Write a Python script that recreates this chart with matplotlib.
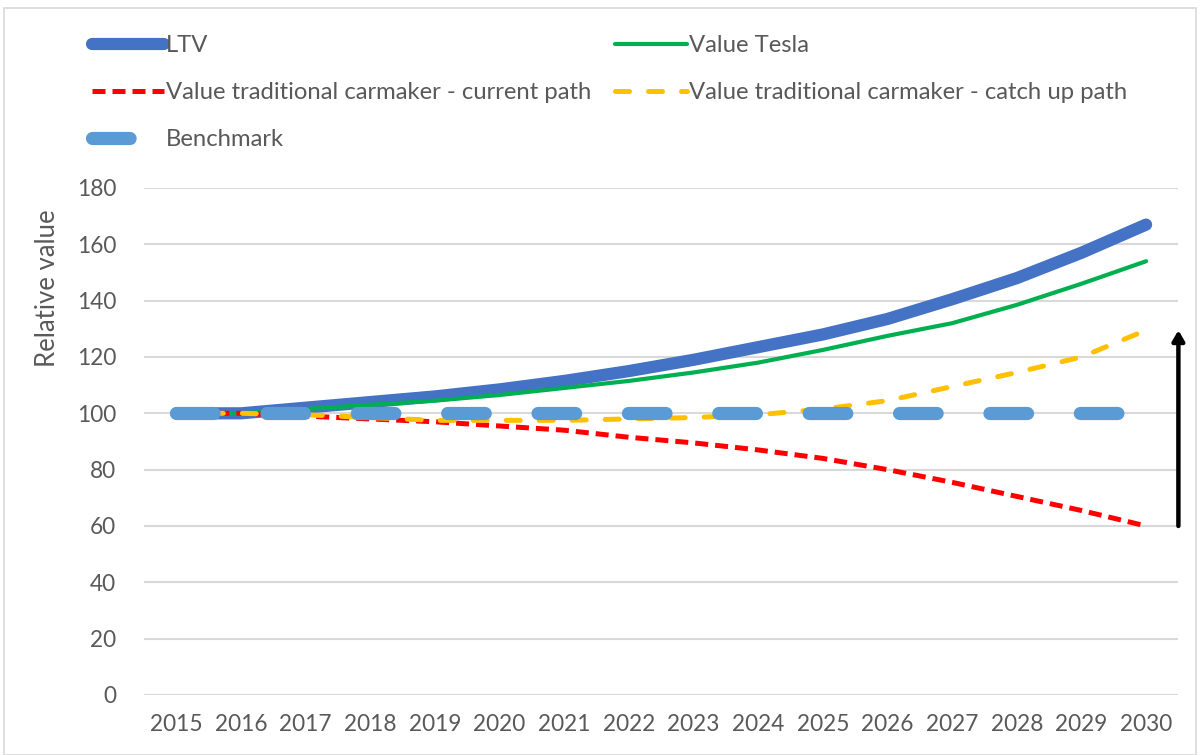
import matplotlib
matplotlib.use('Agg')
import matplotlib.pyplot as plt
from matplotlib.patches import Rectangle

plt.rcParams['font.family'] = ['Lato', 'DejaVu Sans']

# Data
years = [str(y) for y in range(2015, 2031)]
ltv = [100, 100, 102, 104, 106, 108.5, 111.5, 115, 119, 123.5, 128, 133.5, 140.5, 148, 157, 167]
tesla = [100, 100, 101.5, 103, 104.5, 106.5, 109, 111.5, 114.5, 118, 122.5, 127.5, 132, 138.5, 146, 154]
current_path = [100, 100, 99, 98, 97, 95.5, 94, 91.5, 89.5, 87, 84, 80, 75.5, 70.5, 65.5, 60]
catch_up_path = [100, 100, 99.5, 98.5, 97.5, 97.5, 97.5, 98, 98.5, 99.5, 101.5, 104.5, 109.5, 114.5, 120, 129.5]
benchmark = [100] * 16
y_ticks = list(range(0, 181, 20))

text_col = '#595959'
x = list(range(len(years)))

fig = plt.figure(figsize=(12, 7.55), dpi=100)
ax = fig.add_axes([0.12, 0.0795, 0.862, 0.6715])

# chart border
fig.patches.append(Rectangle((0.003, 0.0), 0.994, 0.989, transform=fig.transFigure,
                             fill=False, edgecolor='#d9d9d9', linewidth=1.2))

l_ltv, = ax.plot(x, ltv, color='#4472c4', linewidth=8.8, solid_capstyle='round', label='LTV', zorder=3)
l_tesla, = ax.plot(x, tesla, color='#00b050', linewidth=3.0, solid_capstyle='round',
                   label='Value Tesla', zorder=3)
l_cur, = ax.plot(x, current_path, color='#ff0000', linewidth=3.6, linestyle=(0, (2.6, 1.4)),
                 label='Value traditional carmaker - current path', zorder=3)
l_catch, = ax.plot(x, catch_up_path, color='#ffc000', linewidth=3.6, linestyle=(0, (2.8, 3.8)),
                   dash_capstyle='round', label='Value traditional carmaker - catch up path', zorder=3)
l_bench, = ax.plot(x, benchmark, color='#5b9bd5', linewidth=9.5, linestyle=(0, (2.85, 4.0)),
                   dash_capstyle='round', label='Benchmark', zorder=4)

# arrow from current path end to catch-up path end
ax.annotate('', xy=(len(years) - 0.5, catch_up_path[-1]), xytext=(len(years) - 0.5, current_path[-1]),
            arrowprops=dict(arrowstyle='-|>,head_length=0.6,head_width=0.35', color='black', lw=3.2,
                            shrinkA=0, shrinkB=0),
            annotation_clip=False, zorder=5)

ax.set_xlim(-0.5, len(years) - 0.5)
ax.set_ylim(0, 180)
ax.set_yticks(y_ticks)
ax.set_xticks(x)
ax.set_xticklabels(years)
ax.grid(axis='y', color='#d9d9d9', linewidth=1.5)
ax.set_axisbelow(True)
for s in ax.spines.values():
    s.set_visible(False)
ax.tick_params(length=0, labelsize=16.3, colors=text_col, pad=14)
ax.tick_params(axis='y', pad=20)
ax.set_ylabel('Relative value', fontsize=18.5, color=text_col)
ax.yaxis.set_label_coords(-0.081, 0.803)

# legend filled row-wise like the original (matplotlib fills columns first)
handles = [l_ltv, l_cur, l_bench, l_tesla, l_catch]
fig.legend(handles=handles, labels=[h.get_label() for h in handles],
           loc='upper left', bbox_to_anchor=(0.0767, 0.953), ncol=2, frameon=False,
           fontsize=17.2, labelcolor=text_col, handlelength=3.0, handletextpad=0.1,
           labelspacing=1.08, columnspacing=1.0, borderpad=0, borderaxespad=0)

fig.savefig('out.png', dpi=100)
